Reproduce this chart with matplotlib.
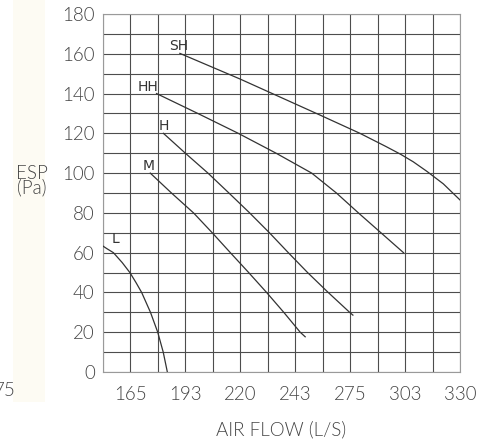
import matplotlib
matplotlib.use('agg')
import matplotlib.pyplot as plt
from matplotlib.patches import Rectangle
import numpy as np

# x axis labels (not evenly spaced in value, evenly spaced on the chart)
flow_ticks = [165, 193, 220, 243, 275, 303, 330]
esp_ticks = [0, 20, 40, 60, 80, 100, 120, 140, 160, 180]

# fan curves: air flow (L/S) vs ESP (Pa)
sh_flow = [190.2, 219.9, 257.4, 280, 293.2, 300.5, 307, 313.7, 321.8, 330]
sh_esp = [160.2, 147.3, 129.2, 120, 113.4, 109.6, 105.7, 100.9, 94.6, 86.5]

hh_flow = [178.3, 199.1, 219, 235, 252.6, 267, 279.2, 290.7, 302.2]
hh_esp = [140, 130, 120, 110, 100, 90, 80, 70, 60]

h_flow = [181.8, 193, 204.1, 214.4, 223.9, 232.2, 240.1, 250.2, 262.2, 274.7, 276.4]
h_esp = [120, 110, 100, 90, 80, 70, 60, 50, 40, 30, 28.6]

m_flow = [175.1, 185.9, 197, 206.2, 215.1, 223.5, 231, 238.2, 245.9, 248.8]
m_esp = [100, 90, 80, 70, 60, 50, 40, 30, 20, 17.7]

l_flow = [151, 153, 156.3, 160.8, 164.7, 167.8, 170.7, 175.2, 178.9, 181.7, 183.8]
l_esp = [63.3, 62, 60, 55, 50, 45, 40, 30, 20, 10, 0]

curves = [
    ('SH', sh_flow, sh_esp),
    ('HH', hh_flow, hh_esp),
    ('H', h_flow, h_esp),
    ('M', m_flow, m_esp),
    ('L', l_flow, l_esp),
]

# label offsets (points) from the start of each curve
label_offset = {'SH': (-1, 0), 'HH': (-6, 0), 'H': (0, 0), 'M': (-1.5, 0), 'L': (9, 0)}

# the chart's flow scale: ticks sit on every second grid column
axis_start = 151
scale_vals = [axis_start] + flow_ticks
scale_pos = [0, 1, 3, 5, 7, 9, 11, 13]


def to_pos(flow):
    return np.interp(flow, scale_vals, scale_pos)


txt = '#444444'
grid_c = '#4d4d4d'
font_kw = dict(family='Lato', fontweight=300, fontsize=13.5, color=txt)

fig = plt.figure(figsize=(4.91, 4.48), dpi=100)
fig.add_artist(Rectangle((13 / 491, 1 - 402 / 448), 32 / 491, 402 / 448,
                         transform=fig.transFigure, facecolor='#fdfbf3',
                         edgecolor='none', zorder=0))

ax = fig.add_axes([103 / 491, 1 - 372 / 448, 357 / 491, 358 / 448])
ax.set_facecolor('white')
ax.set_xlim(0, 13)
ax.set_ylim(0, 180)

ax.set_xticks(to_pos(flow_ticks))
ax.set_xticklabels([str(v) for v in flow_ticks])
ax.set_xticks(np.arange(0, 14), minor=True)
ax.set_yticks(esp_ticks)
ax.set_yticks(np.arange(0, 181, 10), minor=True)
ax.grid(which='both', color=grid_c, linewidth=0.8)
ax.set_axisbelow(True)
ax.tick_params(which='both', length=0)
ax.tick_params(axis='y', pad=6)
ax.tick_params(axis='x', pad=10)
for lab in ax.get_xticklabels() + ax.get_yticklabels():
    lab.set_family('Lato')
    lab.set_fontweight(300)
    lab.set_fontsize(13.5)
    lab.set_color(txt)
for s in ax.spines.values():
    s.set_color('#9a9a9a')
    s.set_linewidth(0.8)

for name, fl, esp in curves:
    xs = to_pos(fl)
    ax.plot(xs, esp, color='#333333', linewidth=0.9, zorder=3)
    dx, dy = label_offset[name]
    ax.annotate(name, xy=(xs[0], esp[0]), xytext=(dx, dy),
                textcoords='offset points', ha='center', va='bottom',
                family=['Liberation Sans Narrow', 'DejaVu Sans'],
                fontsize=10, color='#333333')

fig.text(32 / 491, 1 - 181 / 448, 'ESP\n(Pa)', ha='center', va='center',
         linespacing=0.75, **font_kw)
fig.text(281 / 491, 1 - 430 / 448, 'AIR FLOW (L/S)', ha='center', va='center',
         **font_kw)
fig.text(16 / 491, 1 - 390 / 448, '75', ha='right', va='center', **font_kw)

fig.savefig('out.png', dpi=100)
